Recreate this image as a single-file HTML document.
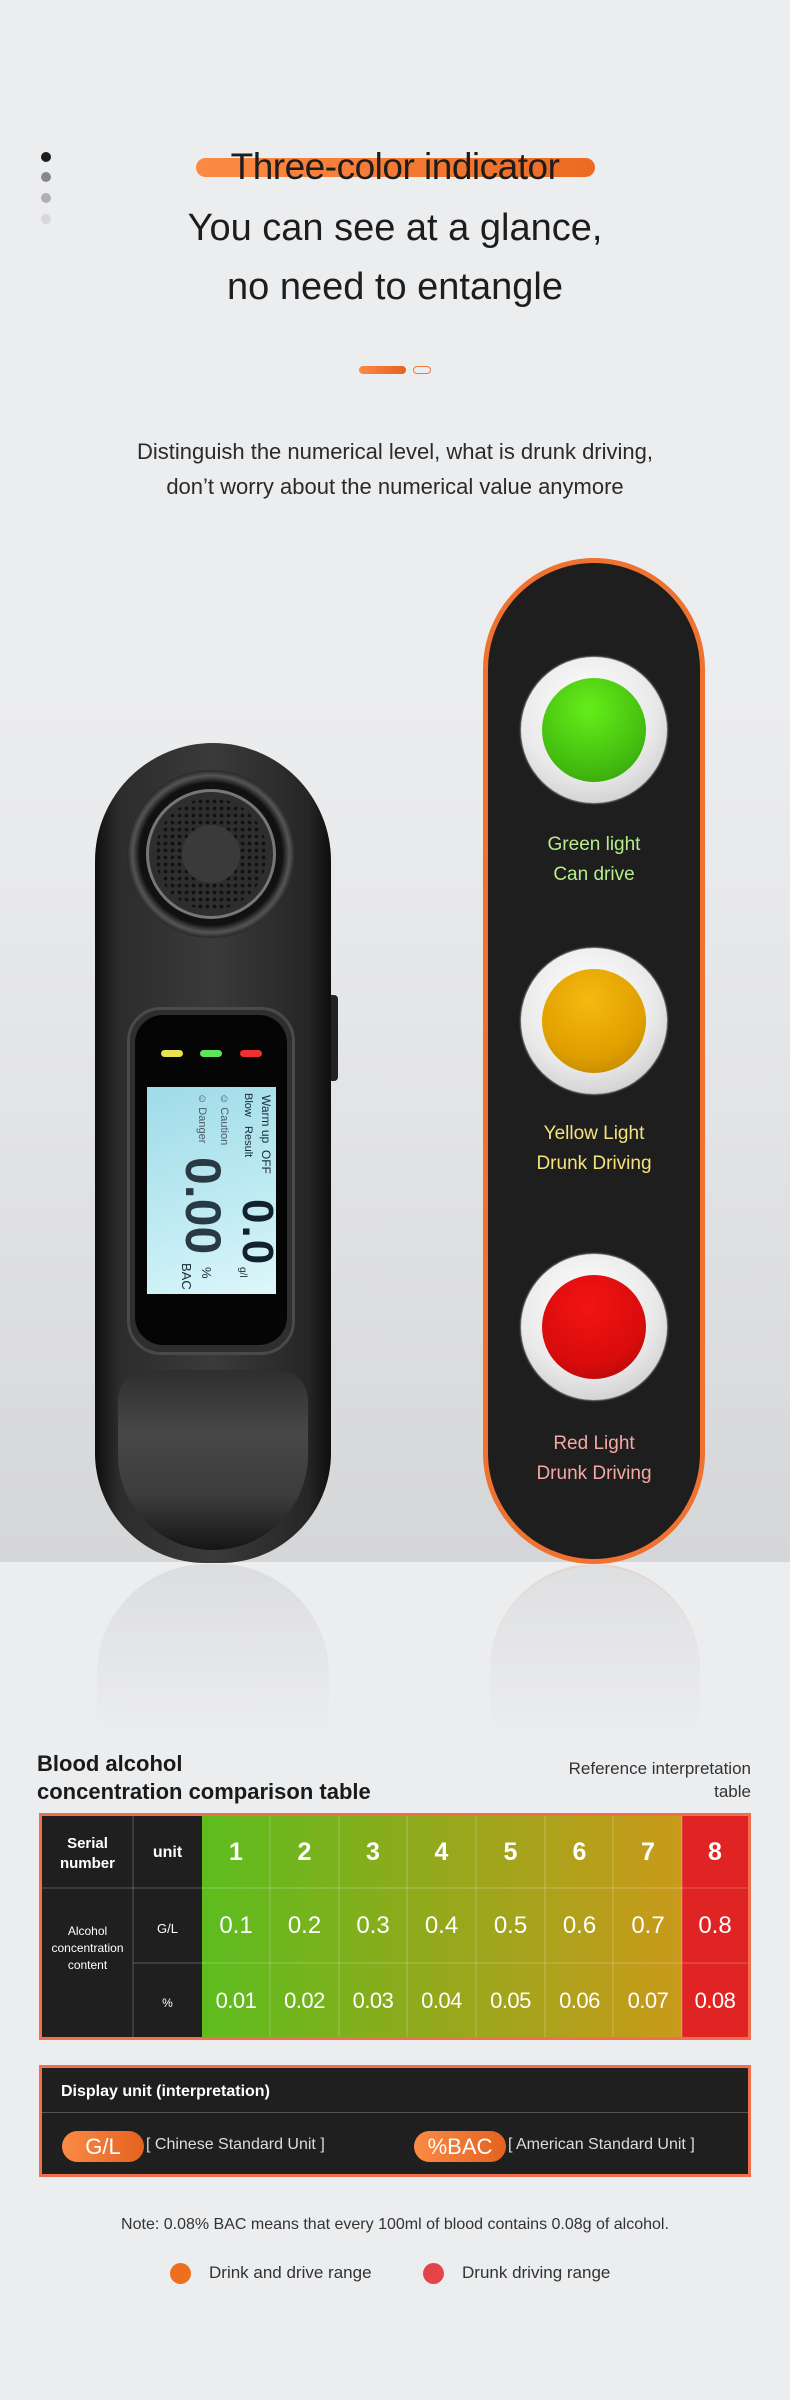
<!DOCTYPE html>
<html><head><meta charset="utf-8">
<style>
*{margin:0;padding:0;box-sizing:border-box}
body{width:790px;height:2400px;background:#ecedef;font-family:"Liberation Sans",sans-serif;position:relative;overflow:hidden}
.a{position:absolute}
.c{text-align:center}
.dot{position:absolute;left:41px;width:10px;height:10px;border-radius:50%}
.t{position:absolute;left:0;width:790px;text-align:center;color:#1d1d1d}
.lbl{position:absolute;left:484px;width:220px;text-align:center;font-size:19px;line-height:30px}
.ring{position:absolute;width:146px;height:146px;border-radius:50%;left:521px;background:radial-gradient(circle at 45% 35%,#fff 0%,#e9e9e9 55%,#bdbdbd 100%);box-shadow:0 0 2px #fff}
.lamp{position:absolute;left:21px;top:21px;width:104px;height:104px;border-radius:50%}
.lcd{font-family:"Liberation Sans",sans-serif;color:#1a2a33;white-space:nowrap;position:absolute}
</style></head><body>

<div class="a" style="left:0;top:700px;width:790px;height:862px;background:linear-gradient(#ecedef,#e2e3e5 50%,#d5d6d8)"></div>

<div class="dot" style="top:152px;background:#1d1d1d"></div>
<div class="dot" style="top:172px;background:#888"></div>
<div class="dot" style="top:193px;background:#b0b0b2"></div>
<div class="dot" style="top:214px;background:#d8d8da"></div>

<div class="a" style="left:196px;top:158px;width:399px;height:19px;border-radius:10px;background:linear-gradient(90deg,#fb8a45,#ec6a24)"></div>
<div class="t" style="top:143px;font-size:37px;line-height:48px;letter-spacing:-0.5px">Three-color indicator</div>
<div class="t" style="top:204px;font-size:38px;line-height:48px">You can see at a glance,</div>
<div class="t" style="top:263px;font-size:38px;line-height:48px">no need to entangle</div>

<div class="a" style="left:359px;top:366px;width:47px;height:8px;border-radius:4px;background:linear-gradient(90deg,#fb8a45,#e4621f)"></div>
<div class="a" style="left:413px;top:366px;width:18px;height:8px;border-radius:4px;border:1.5px solid #ee7a3a"></div>

<div class="t" style="top:434px;font-size:22px;line-height:35px;color:#2a2a2a">Distinguish the numerical level, what is drunk driving,<br>don’t worry about the numerical value anymore</div>

<!-- panel -->
<div class="a" style="left:483px;top:558px;width:222px;height:1006px;border-radius:111px;background:#1e1e1e;border:5px solid #ef7230"></div>
<div class="ring" style="top:657px"><div class="lamp" style="background:radial-gradient(circle at 45% 30%,#66ee1a,#45c010 60%,#319a08)"></div></div>
<div class="lbl" style="top:830px;color:#b6ec8a">Green light<br>Can drive</div>
<div class="ring" style="top:948px"><div class="lamp" style="background:radial-gradient(circle at 45% 30%,#f5b810,#e0a000 60%,#b47e00)"></div></div>
<div class="lbl" style="top:1119px;color:#f6e27a">Yellow Light<br>Drunk Driving</div>
<div class="ring" style="top:1254px"><div class="lamp" style="background:radial-gradient(circle at 45% 30%,#f21414,#da0c0c 60%,#a80808)"></div></div>
<div class="lbl" style="top:1429px;color:#f4a8a4">Red Light<br>Drunk Driving</div>

<!-- reflections -->
<div class="a" style="left:490px;top:1564px;width:210px;height:170px;border-radius:105px 105px 0 0;background:linear-gradient(#dedfe1,rgba(236,237,239,0));border-top:2px solid rgba(240,190,160,0.35)"></div>
<div class="a" style="left:97px;top:1564px;width:232px;height:170px;border-radius:110px 110px 0 0;background:linear-gradient(#dcdddf,rgba(236,237,239,0))"></div>

<!-- device -->
<div class="a" style="left:327px;top:995px;width:11px;height:86px;border-radius:4px;background:#222"></div>
<div class="a" style="left:95px;top:743px;width:236px;height:820px;border-radius:118px 118px 110px 110px;background:linear-gradient(90deg,#0e0e0e 0%,#2c2c2c 10%,#3a3a3a 50%,#262626 90%,#0e0e0e 100%)"></div>
<div class="a" style="left:118px;top:1370px;width:190px;height:180px;border-radius:30px 30px 95px 95px;background:linear-gradient(#2e2e2e,#484848 35%,#3c3c3c 70%,#151515)"></div>
<div class="a" style="left:127px;top:770px;width:168px;height:168px;border-radius:50%;background:radial-gradient(circle,#111 60%,#555 66%,#1a1a1a 72%,#3a3a3a 80%,#111 100%)"></div>
<div class="a" style="left:146px;top:789px;width:130px;height:130px;border-radius:50%;background:#2e2e2e;border:3px solid #777;overflow:hidden">
  <div class="a" style="left:6px;top:6px;width:112px;height:112px;border-radius:50%;background:radial-gradient(circle,#111 1.6px,transparent 2.2px) 0 0/7px 7px"></div>
  <div class="a" style="left:33px;top:33px;width:58px;height:58px;border-radius:50%;background:#3a3a3a"></div>
</div>
<div class="a" style="left:127px;top:1007px;width:168px;height:348px;border-radius:34px;background:#2e2e2e;border:3px solid #4a4a4a"></div>
<div class="a" style="left:135px;top:1015px;width:152px;height:330px;border-radius:28px;background:#050505"></div>
<div class="a" style="left:161px;top:1050px;width:22px;height:7px;border-radius:4px;background:#e8e050"></div>
<div class="a" style="left:200px;top:1050px;width:22px;height:7px;border-radius:4px;background:#5ee65a"></div>
<div class="a" style="left:240px;top:1050px;width:22px;height:7px;border-radius:4px;background:#f23030"></div>
<div class="a" style="left:147px;top:1087px;width:129px;height:207px;background:linear-gradient(160deg,#9fdbe8,#c6eef5 70%,#dff7fa);overflow:hidden">
  <div class="a" style="left:-39px;top:39px;width:207px;height:129px;transform:rotate(90deg);transform-origin:50% 50%">
    <div class="lcd" style="left:8px;top:3px;font-size:12px">Warm up&nbsp; OFF</div>
    <div class="lcd" style="left:6px;top:22px;font-size:11px">Blow&nbsp;&nbsp; Result</div>
    <div class="lcd" style="left:112px;top:-6px;font-size:44px;font-weight:bold;letter-spacing:2px;color:#12222c">0.0</div>
    <div class="lcd" style="left:180px;top:28px;font-size:10px">g/l</div>
    <div class="lcd" style="left:6px;top:46px;font-size:11px;color:#4a5a66">☺ Caution</div>
    <div class="lcd" style="left:6px;top:68px;font-size:11px;color:#4a5a66">☺ Danger</div>
    <div class="lcd" style="left:70px;top:44px;font-size:50px;font-weight:bold;color:#2a3a44">0.00</div>
    <div class="lcd" style="left:180px;top:62px;font-size:13px">%</div>
    <div class="lcd" style="left:176px;top:82px;font-size:13px">BAC</div>
  </div>
</div>

<!-- table header -->
<div class="a" style="left:37px;top:1750px;font-size:22px;font-weight:bold;line-height:28px;color:#1a1a1a">Blood alcohol<br>concentration comparison table</div>
<div class="a" style="left:500px;top:1757px;width:251px;text-align:right;font-size:17px;line-height:23px;color:#333">Reference interpretation<br>table</div>

<div class="a" style="left:39px;top:1813px;width:712px;height:227px;border:3px solid #f26f4d;background:linear-gradient(90deg,#47c021 0%,#60bb1e 25%,#92a91c 55%,#c99a1b 90%)"></div>
<div class="a" style="left:682px;top:1816px;width:66px;height:221px;background:#e02424"></div>
<div class="a" style="left:42px;top:1816px;width:160px;height:221px;background:#1f1f1f"></div>
<svg class="a" style="left:0;top:0" width="790" height="2400">
 <g stroke="rgba(255,255,255,0.25)" stroke-width="1">
  <line x1="133" y1="1816" x2="133" y2="2037"/>
  <line x1="42" y1="1888" x2="748" y2="1888"/>
  <line x1="133" y1="1963" x2="748" y2="1963"/>
  <line x1="270" y1="1816" x2="270" y2="2037"/><line x1="339" y1="1816" x2="339" y2="2037"/><line x1="407" y1="1816" x2="407" y2="2037"/><line x1="476" y1="1816" x2="476" y2="2037"/><line x1="545" y1="1816" x2="545" y2="2037"/><line x1="613" y1="1816" x2="613" y2="2037"/><line x1="682" y1="1816" x2="682" y2="2037"/>
 </g>
</svg>
<div class="a c" style="left:42px;top:1834px;width:91px;font-size:15px;font-weight:bold;line-height:20px;color:#fff">Serial<br>number</div>
<div class="a c" style="left:133px;top:1844px;width:69px;font-size:16px;font-weight:bold;color:#fff">unit</div>
<div class="a c" style="left:42px;top:1923px;width:91px;font-size:12px;line-height:17px;color:#fff">Alcohol<br>concentration<br>content</div>
<div class="a c" style="left:133px;top:1921px;width:69px;font-size:13px;color:#fff">G/L</div>
<div class="a c" style="left:133px;top:1996px;width:69px;font-size:12px;color:#fff">%</div>
<div class="a" style="left:202px;top:1838px;width:546px;display:flex;color:#fff;font-size:25px;font-weight:bold">
 <div style="width:68px;text-align:center">1</div><div style="width:69px;text-align:center">2</div><div style="width:68px;text-align:center">3</div><div style="width:69px;text-align:center">4</div><div style="width:69px;text-align:center">5</div><div style="width:69px;text-align:center">6</div><div style="width:68px;text-align:center">7</div><div style="width:66px;text-align:center">8</div></div>
<div class="a" style="left:202px;top:1912px;width:546px;display:flex;color:#fff;font-size:24px">
 <div style="width:68px;text-align:center">0.1</div><div style="width:69px;text-align:center">0.2</div><div style="width:68px;text-align:center">0.3</div><div style="width:69px;text-align:center">0.4</div><div style="width:69px;text-align:center">0.5</div><div style="width:69px;text-align:center">0.6</div><div style="width:68px;text-align:center">0.7</div><div style="width:66px;text-align:center">0.8</div></div>
<div class="a" style="left:202px;top:1988px;width:546px;display:flex;color:#fff;font-size:22px;letter-spacing:-0.5px">
 <div style="width:68px;text-align:center">0.01</div><div style="width:69px;text-align:center">0.02</div><div style="width:68px;text-align:center">0.03</div><div style="width:69px;text-align:center">0.04</div><div style="width:69px;text-align:center">0.05</div><div style="width:69px;text-align:center">0.06</div><div style="width:68px;text-align:center">0.07</div><div style="width:66px;text-align:center">0.08</div></div>

<!-- display unit -->
<div class="a" style="left:39px;top:2065px;width:712px;height:112px;border:3px solid #f26f4d;background:#1f1f1f"></div>
<div class="a" style="left:42px;top:2112px;width:706px;height:1px;background:#555"></div>
<div class="a" style="left:61px;top:2083px;font-size:16px;font-weight:bold;color:#fff">Display unit (interpretation)</div>
<div class="a c" style="left:62px;top:2131px;width:82px;height:31px;border-radius:16px;background:linear-gradient(90deg,#fb8a45,#e4621f);color:#fff;font-size:22px;line-height:31px">G/L</div>
<div class="a" style="left:146px;top:2136px;font-size:16px;color:#ddd">[ Chinese Standard Unit ]</div>
<div class="a c" style="left:414px;top:2131px;width:92px;height:31px;border-radius:16px;background:linear-gradient(90deg,#fb8a45,#e4621f);color:#fff;font-size:22px;line-height:31px">%BAC</div>
<div class="a" style="left:508px;top:2136px;font-size:16px;color:#ddd">[ American Standard Unit ]</div>

<div class="t" style="top:2216px;font-size:16px;color:#333">Note: 0.08% BAC means that every 100ml of blood contains 0.08g of alcohol.</div>
<div class="a" style="left:170px;top:2263px;width:21px;height:21px;border-radius:50%;background:#ee6f1c"></div>
<div class="a" style="left:209px;top:2263px;font-size:17px;color:#333">Drink and drive range</div>
<div class="a" style="left:423px;top:2263px;width:21px;height:21px;border-radius:50%;background:#e5434a"></div>
<div class="a" style="left:462px;top:2263px;font-size:17px;color:#333">Drunk driving range</div>
</body></html>
